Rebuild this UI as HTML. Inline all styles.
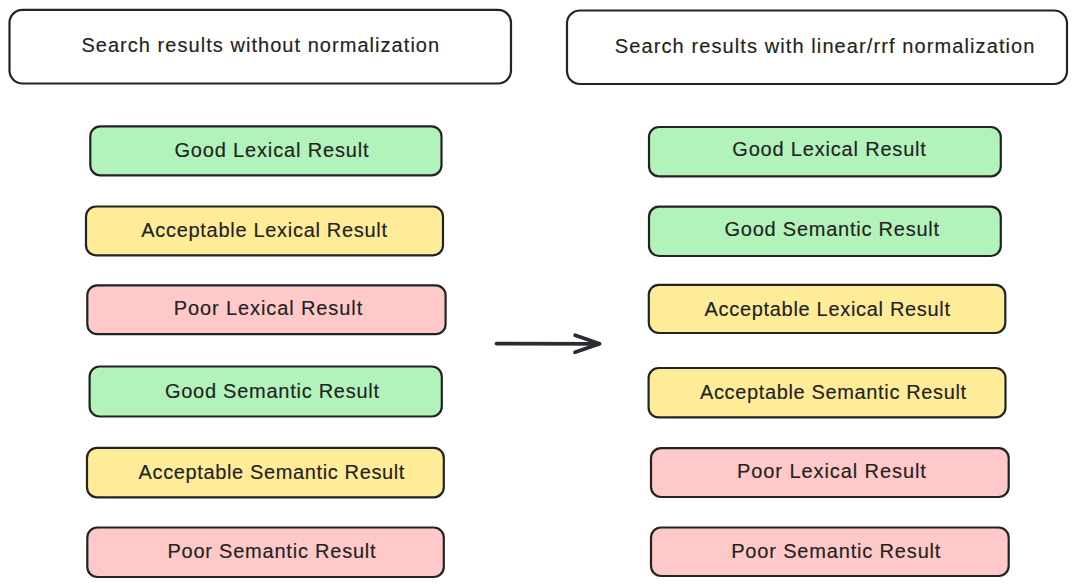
<!DOCTYPE html>
<html><head><meta charset="utf-8"><title>Search results normalization</title>
<style>
html,body{margin:0;padding:0;background:#ffffff;width:1077px;height:586px;overflow:hidden}
#c{position:relative;width:1077px;height:586px}
svg{position:absolute;left:0;top:0}
.t{position:absolute;white-space:nowrap;font-family:"Liberation Sans",sans-serif;font-size:20px;line-height:1;color:#222;font-weight:400;-webkit-text-stroke:0.15px #222}
</style></head><body><div id="c">

<svg width="1077" height="586" viewBox="0 0 1077 586">
<rect x="9.5" y="9.8" width="501.5" height="73.7" rx="13" ry="13" fill="#ffffff" stroke="#232323" stroke-width="2.2"/>
<rect x="567" y="10.5" width="500.0" height="73.5" rx="13" ry="13" fill="#ffffff" stroke="#232323" stroke-width="2.2"/>
<rect x="90.3" y="126.3" width="351.2" height="49.0" rx="10" ry="10" fill="#b2f2bb" stroke="#232323" stroke-width="2.2"/>
<rect x="86" y="206.5" width="357.0" height="48.8" rx="10" ry="10" fill="#ffec99" stroke="#232323" stroke-width="2.2"/>
<rect x="87.3" y="285.3" width="358.3" height="48.9" rx="10" ry="10" fill="#ffc9c9" stroke="#232323" stroke-width="2.2"/>
<rect x="89.6" y="366.5" width="352.2" height="50.0" rx="10" ry="10" fill="#b2f2bb" stroke="#232323" stroke-width="2.2"/>
<rect x="87" y="447.8" width="356.8" height="49.5" rx="10" ry="10" fill="#ffec99" stroke="#232323" stroke-width="2.2"/>
<rect x="87.3" y="527.5" width="356.5" height="49.5" rx="10" ry="10" fill="#ffc9c9" stroke="#232323" stroke-width="2.2"/>
<rect x="649" y="127" width="351.8" height="49.3" rx="10" ry="10" fill="#b2f2bb" stroke="#232323" stroke-width="2.2"/>
<rect x="649" y="206.7" width="351.8" height="49.3" rx="10" ry="10" fill="#b2f2bb" stroke="#232323" stroke-width="2.2"/>
<rect x="648.8" y="284.8" width="356.5" height="48.2" rx="10" ry="10" fill="#ffec99" stroke="#232323" stroke-width="2.2"/>
<rect x="648.6" y="368" width="356.9" height="49.4" rx="10" ry="10" fill="#ffec99" stroke="#232323" stroke-width="2.2"/>
<rect x="651" y="448.2" width="357.7" height="48.8" rx="10" ry="10" fill="#ffc9c9" stroke="#232323" stroke-width="2.2"/>
<rect x="651" y="527.5" width="357.7" height="48.5" rx="10" ry="10" fill="#ffc9c9" stroke="#232323" stroke-width="2.2"/>
<path d="M496.5 343.6 L599 343.8" stroke="#2a2c30" stroke-width="3.8" stroke-linecap="round" fill="none"/>
<path d="M575.2 335.3 L599.6 343.7 L575 352.3" stroke="#2a2c30" stroke-width="3.8" stroke-linecap="round" stroke-linejoin="round" fill="none"/>
</svg>
<div class="t" style="left:81.4px;top:35.4px;letter-spacing:1.043px">Search results without normalization</div>
<div class="t" style="left:614.8px;top:36.3px;letter-spacing:1.100px">Search results with linear/rrf normalization</div>
<div class="t" style="left:174.4px;top:139.7px;letter-spacing:0.844px">Good Lexical Result</div>
<div class="t" style="left:141.3px;top:220.1px;letter-spacing:0.696px">Acceptable Lexical Result</div>
<div class="t" style="left:173.7px;top:298.1px;letter-spacing:0.900px">Poor Lexical Result</div>
<div class="t" style="left:164.9px;top:381.3px;letter-spacing:0.742px">Good Semantic Result</div>
<div class="t" style="left:138.6px;top:461.9px;letter-spacing:0.628px">Acceptable Semantic Result</div>
<div class="t" style="left:167.4px;top:541.2px;letter-spacing:0.779px">Poor Semantic Result</div>
<div class="t" style="left:732.3px;top:138.6px;letter-spacing:0.811px">Good Lexical Result</div>
<div class="t" style="left:724.5px;top:218.7px;letter-spacing:0.763px">Good Semantic Result</div>
<div class="t" style="left:704.5px;top:298.9px;letter-spacing:0.688px">Acceptable Lexical Result</div>
<div class="t" style="left:700.0px;top:381.6px;letter-spacing:0.640px">Acceptable Semantic Result</div>
<div class="t" style="left:737.0px;top:461.1px;letter-spacing:0.922px">Poor Lexical Result</div>
<div class="t" style="left:731.2px;top:541.1px;letter-spacing:0.832px">Poor Semantic Result</div>
</div></body></html>
